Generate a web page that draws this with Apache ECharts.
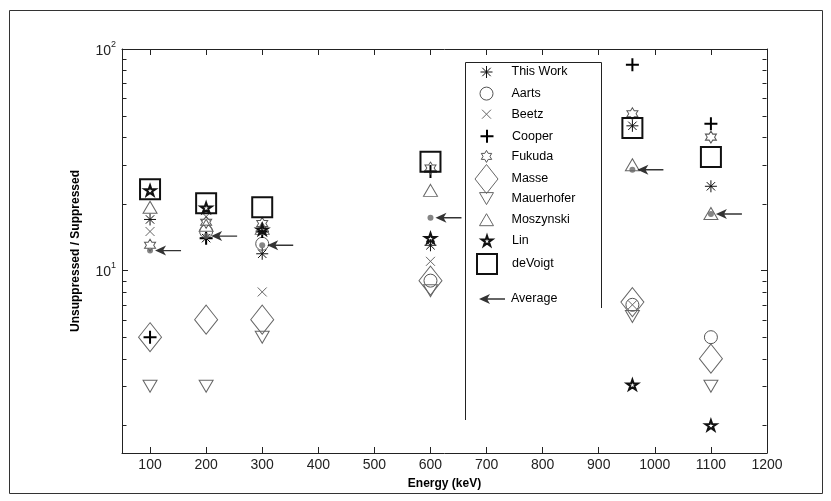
<!DOCTYPE html>
<html>
<head>
<meta charset="utf-8">
<script src="https://cdn.jsdelivr.net/npm/echarts@6/dist/echarts.min.js"></script>
<style>html,body{margin:0;padding:0;background:#fff}#c{width:831px;height:501px}</style>
</head>
<body>
<div id="c"></div>
<script>
// ---- data (energy keV, unsuppressed/suppressed ratio) ----
const thisWork   = [[100,17],[200,14],[300,11.9],[600,13],[960,45],[1100,24]];
const aarts      = [[200,15],[300,13.2],[600,9],[960,7],[1100,5]];
const beetz      = [[100,15],[200,17.5],[300,8],[600,11],[960,7]];
const cooper     = [[100,5],[200,14],[300,15],[600,28],[960,85],[1100,46]];
const fukuda     = [[100,13],[200,16.5],[300,16.3],[600,29],[960,51],[1100,40]];
const masse      = [[100,5],[200,6],[300,6],[600,9],[960,7.2],[1100,4]];
const mauerhofer = [[100,3],[200,3],[300,5],[600,8.1],[960,6.2],[1100,3]];
const moszynski  = [[100,19.3],[200,16],[300,15.5],[600,23],[960,30],[1100,18.1]];
const lin        = [[100,23],[200,19.2],[300,15.3],[600,14],[960,3.05],[1100,2]];
const deVoigt    = [[100,23.3],[200,20.1],[300,19.3],[600,31],[960,44],[1100,32.5]];
const average    = [[100,12.3],[200,14.3],[300,13],[600,17.3],[960,28.5],[1100,18]];

const xMin = 50, xMax = 1200;
const yMin = 1.5, yMax = 100;
const minorTickValues = [2,3,4,5,6,7,8,9,20,30,40,50,60,70,80,90];

const FONT = "'Liberation Sans', Arial, sans-serif";

// ---- marker shapes ----
const SYM = {
  asterisk: 'path://M0 5L10 5M5 0L5 10M1.5 1.5L8.5 8.5M8.5 1.5L1.5 8.5',
  cross: 'path://M0 0L10 10M10 0L0 10',
  plus: 'path://M5 0L5 10M0 5L10 5',
  hexagram: 'path://M5 0L6.443 2.5L9.33 2.5L7.887 5L9.33 7.5L6.443 7.5L5 10L3.557 7.5L0.67 7.5L2.113 5L0.67 2.5L3.557 2.5Z',
  pentagram: 'path://M5 0L6.123 3.455L9.755 3.455L6.817 5.59L7.939 9.045L5 6.91L2.061 9.045L3.183 5.59L0.245 3.455L3.877 3.455Z',
  diamond: 'path://M11.5 0L23 14.5L11.5 29L0 14.5Z',
  triUp: 'path://M7 0L14 12L0 12Z',
  triDown: 'path://M0 0L14 0L7 12Z',
  square: 'path://M0 0L10 0L10 10L0 10Z',
  arrow: 'path://M0 5L11 0L8 5L11 10ZM8 4.3L26 4.3L26 5.7L8 5.7Z'
};

const seriesDefs = [
  {name:'This Work', data:thisWork, symbol:SYM.asterisk, size:[12,12], stroke:'#111', fill:'transparent', bw:1, lw:12},
  {name:'Aarts', data:aarts, symbol:'circle', size:[13,13], stroke:'#555', fill:'transparent', bw:1, lw:13},
  {name:'Beetz', data:beetz, symbol:SYM.cross, size:[9,9], stroke:'#666', fill:'transparent', bw:1, lw:9},
  {name:'Cooper', data:cooper, symbol:SYM.plus, size:[13,13], stroke:'#000', fill:'transparent', bw:2, lw:13},
  {name:'Fukuda', data:fukuda, symbol:SYM.hexagram, size:[11,12], stroke:'#555', fill:'transparent', bw:1, lw:10.4},
  {name:'Masse', data:masse, symbol:SYM.diamond, size:[23,29], stroke:'#666', fill:'transparent', bw:1, lw:23},
  {name:'Mauerhofer', data:mauerhofer, symbol:SYM.triDown, size:[14,12], stroke:'#666', fill:'transparent', bw:1, lw:14},
  {name:'Moszynski', data:moszynski, symbol:SYM.triUp, size:[14,12], stroke:'#666', fill:'transparent', bw:1, lw:14},
  {name:'Lin', data:lin, symbol:SYM.pentagram, size:[11,10], stroke:'#111', fill:'transparent', bw:2, lw:10.5},
  {name:'deVoigt', data:deVoigt, symbol:SYM.square, size:[20,20], stroke:'#111', fill:'transparent', bw:2, lw:20}
];

const series = seriesDefs.map(d => ({
  type:'scatter', name:d.name, data:d.data, symbol:d.symbol, symbolSize:d.size,
  itemStyle:{color:d.fill, borderColor:d.stroke, borderWidth:d.bw, opacity:1},
  silent:true, z:3
}));

// Average: arrow + dot (two series sharing one legend name)
series.push({
  type:'scatter', name:'Average', data:average, symbol:SYM.arrow, symbolSize:[26,10],
  symbolOffset:[18,0], itemStyle:{color:'#000', borderWidth:0}, silent:true, z:4
});
series.push({
  type:'scatter', name:'Average', data:average, symbol:'circle', symbolSize:6,
  itemStyle:{color:'#666', borderWidth:0}, silent:true, z:5
});

// minor log ticks on left and right axes
series.push({
  type:'custom', name:'minorTicks', silent:true, z:2,
  data: minorTickValues.map(v => [xMin, v]),
  renderItem(params, api){
    const y = Math.round(api.coord([api.value(0), api.value(1)])[1]) + 0.5;
    const cs = params.coordSys;
    const xl = Math.round(cs.x) + 0.5, xr = Math.round(cs.x + cs.width) - 0.5;
    return {type:'group', children:[
      {type:'line', shape:{x1:xl, y1:y, x2:xl+4, y2:y}, style:{stroke:'#222', lineWidth:1}},
      {type:'line', shape:{x1:xr, y1:y, x2:xr-4, y2:y}, style:{stroke:'#222', lineWidth:1}}
    ]};
  }
});

// ---- legend: one component per row ----
const legendTop = 73, legendStep = 21.1, legendIconX = 486;
const legends = seriesDefs.map((d, i) => {
  const yc = legendTop + i * legendStep;
  const ih = d.size[1];
  const h = Math.max(ih, 15);
  return {
    data:[d.name], orient:'vertical', left: legendIconX - d.lw/2, top: yc - h/2, padding:0,
    itemWidth:40, itemHeight:ih, itemGap:0, selectedMode:false, symbolKeepAspect:true,
    itemStyle:{borderWidth:d.bw},
    textStyle:{fontSize:12.5, color:'#000', fontFamily:FONT}
  };
});
legends.push({
  data:['Average'], orient:'vertical', left:479, top:300-7.5, padding:0,
  itemWidth:28, itemHeight:10, itemGap:0, selectedMode:false, symbolKeepAspect:true,
  itemStyle:{borderWidth:0},
  textStyle:{fontSize:12.5, color:'#000', fontFamily:FONT}
});

const axisLineStyle = {color:'#222', width:1};

const option = {
  backgroundColor:'#fff',
  animation:false,
  grid:{left:122, top:49, right:64, bottom:48},
  legend: legends,
  xAxis:[
    {type:'value', min:xMin, max:xMax, splitNumber:11, position:'bottom',
     axisLine:{lineStyle:axisLineStyle}, splitLine:{show:false},
     axisTick:{inside:true, length:6, lineStyle:axisLineStyle},
     axisLabel:{margin:5, fontSize:14, color:'#222', fontFamily:FONT,
       formatter:v => (v % 100 === 0 ? String(v) : '')},
     name:'Energy (keV)', nameLocation:'middle', nameGap:25,
     nameTextStyle:{fontSize:12, fontWeight:'bold', color:'#000', fontFamily:FONT}},
    {type:'value', min:xMin, max:xMax, splitNumber:11, position:'top',
     axisLine:{lineStyle:axisLineStyle}, splitLine:{show:false},
     axisTick:{inside:true, length:6, lineStyle:axisLineStyle},
     axisLabel:{show:false}}
  ],
  yAxis:[
    {type:'log', logBase:10, min:yMin, max:yMax, position:'left',
     axisLine:{show:true, lineStyle:axisLineStyle}, splitLine:{show:false},
     axisTick:{inside:true, length:6, lineStyle:axisLineStyle},
     axisLabel:{margin:6, color:'#222', fontFamily:FONT,
       formatter:v => {
         const e = Math.log10(v), r = Math.round(e);
         if (Math.abs(e - r) > 1e-6) return '';
         return '{b|10}{s|' + r + '}';
       },
       rich:{
         b:{fontSize:14, lineHeight:18, verticalAlign:'bottom', color:'#222', fontFamily:FONT},
         s:{fontSize:9, lineHeight:10, verticalAlign:'top', color:'#222', fontFamily:FONT}
       }},
     name:'Unsuppressed / Suppressed', nameLocation:'middle', nameGap:40,
     nameTextStyle:{fontSize:12, fontWeight:'bold', color:'#000', fontFamily:FONT}},
    {type:'log', logBase:10, min:yMin, max:yMax, position:'right',
     axisLine:{show:true, lineStyle:axisLineStyle}, splitLine:{show:false},
     axisTick:{inside:true, length:6, lineStyle:axisLineStyle},
     axisLabel:{show:false}}
  ],
  series: series,
  graphic:[
    {type:'rect', shape:{x:9.5, y:10.5, width:813, height:483}, style:{fill:'none', stroke:'#333', lineWidth:1}, silent:true},
    {type:'polyline', shape:{points:[[465.5,420],[465.5,62.5],[601.5,62.5],[601.5,308]]}, style:{fill:'none', stroke:'#222', lineWidth:1}, silent:true, z:10}
  ]
};

const chart = echarts.init(document.getElementById('c'), null, {renderer:'canvas'});
chart.setOption(option);
</script>
</body>
</html>
